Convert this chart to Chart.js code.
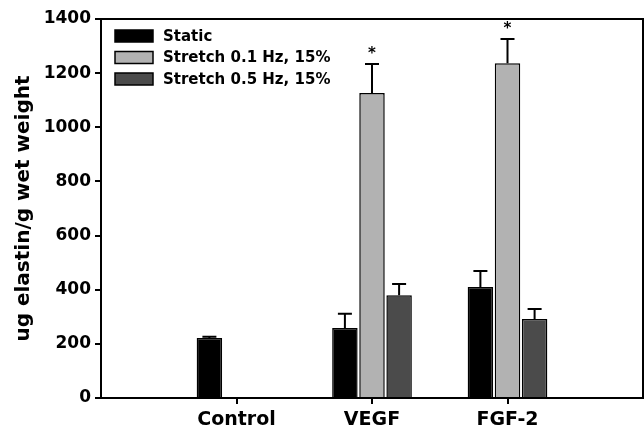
<!DOCTYPE html>
<html>
<head>
<meta charset="utf-8">
<script src="https://cdn.jsdelivr.net/npm/chart.js@4"></script>
<style>
  html, body { margin: 0; padding: 0; background: #fff; }
  #wrap { width: 644px; height: 434px; }
</style>
</head>
<body>
<div id="wrap"><canvas id="elastinChart"></canvas></div>
<script>
// datos
const categories = ["", "Control", "VEGF", "FGF-2", ""];
const seriesNames = ["Static", "Stretch 0.1 Hz, 15%", "Stretch 0.5 Hz, 15%"];
const staticValues = [null, 222, 259, 410, null];
const stretch01Values = [null, null, 1127, 1237, null];
const stretch05Values = [null, null, 380, 292, null];
const staticErr = [null, 4, 52, 59, null];
const stretch01Err = [null, null, 107, 89, null];
const stretch05Err = [null, null, 41, 37, null];
const significant = [null, null, true, true, null]; // asterisco sobre Stretch 0.1
const yTicks = [0, 200, 400, 600, 800, 1000, 1200, 1400];

const FONT = "'DejaVu Sans', Arial, sans-serif";
const colors = ["#000000", "#b2b2b2", "#4b4b4b"];
const errors = [staticErr, stretch01Err, stretch05Err];

// barras de error, asteriscos, marco y leyenda
const extrasPlugin = {
  id: "extras",
  afterDatasetsDraw(chart) {
    const ctx = chart.ctx;
    const y = chart.scales.y;
    ctx.save();
    ctx.strokeStyle = "#000";
    ctx.lineWidth = 2;
    chart.data.datasets.forEach((ds, i) => {
      const meta = chart.getDatasetMeta(i);
      meta.data.forEach((bar, j) => {
        const v = ds.data[j];
        const e = errors[i][j];
        if (v == null || e == null) return;
        const top = y.getPixelForValue(v + e);
        ctx.beginPath();
        ctx.moveTo(bar.x, bar.y);
        ctx.lineTo(bar.x, top);
        ctx.moveTo(bar.x - 7, top);
        ctx.lineTo(bar.x + 7, top);
        ctx.stroke();
        if (i === 1 && significant[j]) {
          ctx.fillStyle = "#000";
          ctx.font = "bold 15px " + FONT;
          ctx.textAlign = "center";
          ctx.textBaseline = "middle";
          ctx.fillText("*", bar.x, top - 10);
        }
      });
    });

    // marco superior y derecho
    const a = chart.chartArea;
    ctx.beginPath();
    ctx.moveTo(a.left, a.top);
    ctx.lineTo(a.right, a.top);
    ctx.lineTo(a.right, a.bottom);
    ctx.stroke();

    // leyenda dentro del area
    ctx.font = "bold 15px " + FONT;
    ctx.textAlign = "left";
    ctx.textBaseline = "middle";
    seriesNames.forEach((name, i) => {
      const yy = a.top + 17 + i * 21.5;
      ctx.fillStyle = colors[i];
      ctx.fillRect(a.left + 14, yy - 6, 38, 12);
      ctx.lineWidth = 1.5;
      ctx.strokeRect(a.left + 14, yy - 6, 38, 12);
      ctx.fillStyle = "#000";
      ctx.fillText(name, a.left + 62, yy + 1);
    });
    ctx.restore();
  },
};

const datasets = [staticValues, stretch01Values, stretch05Values].map((vals, i) => ({
  label: seriesNames[i],
  data: vals,
  backgroundColor: colors[i],
  borderColor: "#000",
  borderWidth: 1.5,
  categoryPercentage: 0.6,
  barPercentage: 0.94,
}));

new Chart(document.getElementById("elastinChart").getContext("2d"), {
  type: "bar",
  data: { labels: categories, datasets: datasets },
  options: {
    responsive: true,
    maintainAspectRatio: false,
    animation: false,
    layout: { padding: { top: 19, right: 1, left: 0, bottom: 0 } },
    plugins: {
      legend: { display: false },
      tooltip: { enabled: false },
    },
    scales: {
      x: {
        offset: false,
        grid: {
          offset: false,
          drawOnChartArea: false,
          tickLength: 6,
          color: (c) => (c.index === 0 || c.index === 4 ? "rgba(0,0,0,0)" : "#000"),
          lineWidth: 2,
        },
        border: { display: true, color: "#000", width: 2 },
        ticks: {
          color: "#000",
          font: { family: FONT, size: 19, weight: "bold" },
          padding: 5,
          autoSkip: false,
          maxRotation: 0,
        },
        afterFit(scale) {
          scale.height = 36;
          scale.paddingLeft = 0;
          scale.paddingRight = 0;
        },
      },
      y: {
        min: 0,
        max: 1400,
        afterBuildTicks(scale) {
          scale.ticks = yTicks.map((v) => ({ value: v }));
        },
        grid: { drawOnChartArea: false, tickLength: 6, color: "#000", lineWidth: 2 },
        border: { display: true, color: "#000", width: 2 },
        ticks: {
          color: "#000",
          font: { family: FONT, size: 17, weight: "bold" },
          padding: 4,
          callback: (v) => String(v),
        },
        title: {
          display: true,
          text: "ug elastin/g wet weight",
          color: "#000",
          font: { family: FONT, size: 20, weight: "bold" },
          padding: { top: 12, bottom: 2 },
        },
        afterFit(scale) {
          scale.width = 101;
        },
      },
    },
  },
  plugins: [extrasPlugin],
});
</script>
</body>
</html>
